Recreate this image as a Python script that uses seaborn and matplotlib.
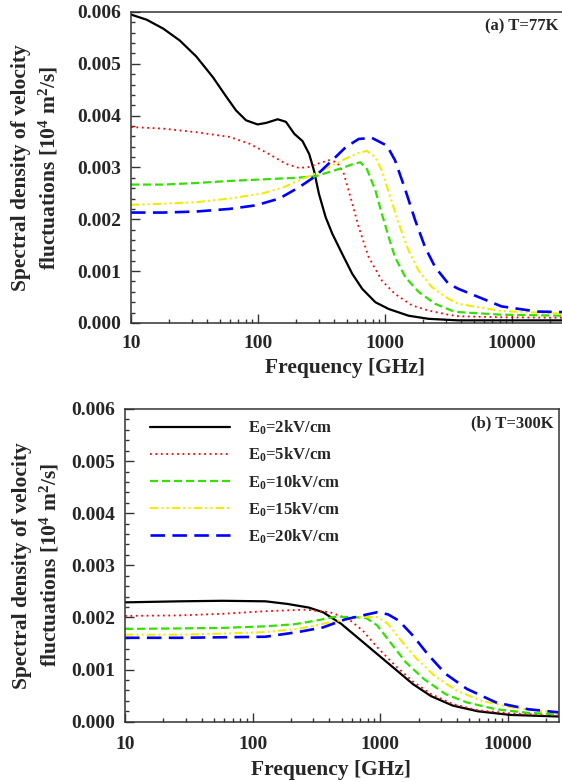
import matplotlib
matplotlib.use("Agg")
import matplotlib.pyplot as plt
import matplotlib.ticker as mticker
import seaborn as sns
import pandas as pd

# ---- data (frequency in GHz, spectral density) ----
labels = [r"E$_0$=2kV/cm", r"E$_0$=5kV/cm", r"E$_0$=10kV/cm",
          r"E$_0$=15kV/cm", r"E$_0$=20kV/cm"]

# (a) T=77K
f77_e2 = [10, 13.3, 17.9, 24.2, 32.7, 44.2, 56.1, 67.2, 80.5, 99.3, 116, 143, 166,
          193, 224, 253, 276, 302, 341, 385, 461, 552, 661, 840, 1069, 1532,
          2198, 3773, 10000, 25000]
s77_e2 = [0.00595, 0.00585, 0.00568, 0.00545, 0.00514, 0.00474, 0.00437, 0.0041,
          0.00391, 0.00383, 0.00386, 0.00393, 0.00388, 0.00365, 0.00351, 0.00326,
          0.00294, 0.00249, 0.00204, 0.00172, 0.00133, 0.00095, 0.00066, 0.0004,
          0.00027, 0.00014, 0.00008, 0.00005, 0.00005, 0.00005]
f77_e5 = [10, 17.9, 32.7, 59.6, 85.5, 122, 166, 211, 253, 302, 362, 420, 474, 535,
          621, 744, 944, 1199, 1630, 2198, 3150, 3773, 8300, 25000]
s77_e5 = [0.00378, 0.00375, 0.00368, 0.00359, 0.00346, 0.00326, 0.00307, 0.00299,
          0.00301, 0.00308, 0.00314, 0.0031, 0.00288, 0.00243, 0.00185, 0.00127,
          0.00082, 0.00056, 0.00034, 0.00024, 0.00016, 0.00013, 0.00011, 0.0001]
f77_e10 = [10, 17.9, 32.7, 59.6, 108.8, 198, 283, 362, 461, 552, 639, 720, 840,
           944, 1069, 1199, 1450, 1840, 2479, 3346, 3773, 8270, 25000]
s77_e10 = [0.00267, 0.00267, 0.0027, 0.00274, 0.00277, 0.0028, 0.00283, 0.00291,
           0.00299, 0.00306, 0.0031, 0.00297, 0.00256, 0.00211, 0.00166, 0.00127,
           0.00088, 0.0006, 0.00037, 0.00024, 0.00021, 0.00016, 0.00014]
f77_e15 = [10, 17.9, 32.7, 59.6, 108.8, 156, 224, 283, 362, 490, 621, 720, 840,
           944, 1102, 1285, 1532, 1840, 2345, 3150, 3773, 8270, 25000]
s77_e15 = [0.00228, 0.0023, 0.00233, 0.0024, 0.0025, 0.00261, 0.00278, 0.00288,
           0.00301, 0.00317, 0.00328, 0.00332, 0.0032, 0.00294, 0.00243, 0.00191,
           0.0014, 0.00101, 0.00069, 0.00047, 0.00037, 0.00023, 0.00018]
f77_e20 = [10, 17.9, 32.7, 59.6, 96.5, 147, 211, 283, 385, 490, 621, 790, 1037,
           1199, 1450, 1730, 2070, 2479, 3150, 3773, 8270, 15800, 25000]
s77_e20 = [0.00213, 0.00213, 0.00215, 0.0022, 0.00227, 0.0024, 0.00262, 0.00283,
           0.00314, 0.00339, 0.00355, 0.00357, 0.00342, 0.00314, 0.00256, 0.00198,
           0.00146, 0.00108, 0.00076, 0.00066, 0.00032, 0.00022, 0.00021]

# (b) T=300K
f300_e2 = [10, 27, 58, 126, 187, 276, 357, 494, 684, 946, 1310, 1810, 2510, 3700,
           5830, 10500, 25000]
s300_e2 = [0.00229, 0.00231, 0.00232, 0.00231, 0.00226, 0.00219, 0.0021, 0.00188,
           0.00159, 0.0013, 0.00101, 0.00072, 0.00049, 0.00031, 0.0002, 0.00013,
           0.0001]
f300_e5 = [10, 27, 58, 126, 258, 405, 565, 730, 946, 1310, 1810, 2510, 3700, 5830,
           10500, 25000]
s300_e5 = [0.00203, 0.00204, 0.00207, 0.00212, 0.00215, 0.0021, 0.00197, 0.00175,
           0.00143, 0.00108, 0.00077, 0.00053, 0.00034, 0.00022, 0.00016, 0.00012]
f300_e10 = [10, 27, 58, 126, 213, 314, 434, 601, 778, 946, 1230, 1590, 2200, 3250,
            4780, 8070, 14400, 25000]
s300_e10 = [0.00178, 0.00179, 0.0018, 0.00183, 0.00187, 0.00194, 0.00201, 0.00201,
            0.00199, 0.00185, 0.00149, 0.00114, 0.00082, 0.00053, 0.00037, 0.00024,
            0.00017, 0.00014]
f300_e15 = [10, 27, 58, 126, 227, 357, 527, 730, 946, 1150, 1490, 1930, 2670, 3950,
            6230, 10500, 17600, 25000]
s300_e15 = [0.00167, 0.00167, 0.00169, 0.00172, 0.00178, 0.00188, 0.00196, 0.00201,
            0.00201, 0.00188, 0.00153, 0.00121, 0.00088, 0.0006, 0.0004, 0.00028,
            0.00021, 0.00017]
f300_e20 = [10, 27, 58, 126, 227, 357, 527, 730, 946, 1150, 1400, 1810, 2350, 3250,
            4780, 8070, 14400, 25000]
s300_e20 = [0.00161, 0.00161, 0.00162, 0.00163, 0.00172, 0.00181, 0.00196, 0.00204,
            0.0021, 0.00206, 0.00194, 0.00165, 0.0013, 0.00092, 0.00063, 0.00037,
            0.00024, 0.00018]

panel_77 = [(f77_e2, s77_e2), (f77_e5, s77_e5), (f77_e10, s77_e10),
            (f77_e15, s77_e15), (f77_e20, s77_e20)]
panel_300 = [(f300_e2, s300_e2), (f300_e5, s300_e5), (f300_e10, s300_e10),
             (f300_e15, s300_e15), (f300_e20, s300_e20)]

# line look for each field value
colors = ["black", "#ff0000", "#33e000", "#f2ec00", "#0000ff"]
widths = [1.6, 1.3, 1.6, 1.5, 1.9]
styles = ["-", (0, (1, 2)), (0, (3.6, 1.8)), (0, (4, 1.5, 1, 1.5, 1, 1.5)),
          (0, (5.5, 2.8))]

sns.set_style("ticks")
plt.rcParams["font.family"] = ["Liberation Serif", "DejaVu Serif"]
plt.rcParams["font.weight"] = "bold"
plt.rcParams["mathtext.fontset"] = "custom"
plt.rcParams["mathtext.rm"] = "Liberation Serif:bold"
plt.rcParams["mathtext.it"] = "Liberation Serif:bold"
plt.rcParams["mathtext.bf"] = "Liberation Serif:bold"
plt.rcParams["mathtext.default"] = "rm"

fig = plt.figure(figsize=(5.62, 7.82), dpi=100)
ax_a = fig.add_axes([0.2331, 0.5870, 0.7678, 0.3977])
ax_b = fig.add_axes([0.2224, 0.0771, 0.7714, 0.3999])

ylab = "Spectral density of velocity\nfluctuations [10$^4$ m$^2$/s]"


def draw_panel(ax, series, tag, ylab_x, xlab_x, xlab_y, tick_pad):
    for (f, s), lab, c, lw, ls in zip(series, labels, colors, widths, styles):
        df = pd.DataFrame({"freq": f, "sd": s})
        sns.lineplot(data=df, x="freq", y="sd", ax=ax, color=c, lw=lw,
                     linestyle=ls, label=lab, legend=False)
    ax.set_xscale("log")
    ax.set_xlim(10, 25000)
    ax.set_ylim(0, 0.006)
    ax.xaxis.set_major_locator(mticker.FixedLocator([10, 100, 1000, 10000]))
    ax.xaxis.set_major_formatter(mticker.FormatStrFormatter("%d"))
    ax.xaxis.set_minor_locator(mticker.LogLocator(base=10, subs=range(2, 10)))
    ax.xaxis.set_minor_formatter(mticker.NullFormatter())
    ax.yaxis.set_major_locator(mticker.MultipleLocator(0.001))
    ax.yaxis.set_minor_locator(mticker.MultipleLocator(0.0002))
    ax.yaxis.set_major_formatter(mticker.FormatStrFormatter("%.3f"))
    ax.tick_params(which="both", direction="in", top=False, right=False,
                   width=1.0, color="#333333")
    ax.tick_params(which="major", length=6.5, labelsize=14)
    ax.tick_params(which="minor", length=3.2)
    ax.tick_params(axis="x", which="major", pad=tick_pad)
    ax.tick_params(axis="y", which="major", pad=7)
    for sp in ax.spines.values():
        sp.set_linewidth(1.1)
        sp.set_color("#333333")
    ax.set_xlabel("Frequency [GHz]", fontsize=15.5, fontweight="bold", va="center")
    ax.xaxis.set_label_coords(xlab_x, xlab_y)
    ax.set_ylabel(ylab, fontsize=15.5, fontweight="bold", va="center",
                  ha="center", linespacing=1.35)
    ax.yaxis.set_label_coords(ylab_x, 0.5)
    ax.text(0.9896, 0.955, tag, transform=ax.transAxes, ha="right", va="center",
            fontsize=12, fontweight="bold")


draw_panel(ax_a, panel_77, "(a) T=77K", -0.2213, 0.497, -0.145, 8.5)
draw_panel(ax_b, panel_300, "(b) T=300K", -0.204, 0.475, -0.155, 10.5)
ax_a.spines["right"].set_visible(False)

ax_b.legend(loc="upper left", bbox_to_anchor=(0.0577, 0.968), frameon=False,
            fontsize=12, handlelength=4.8, handletextpad=1.1, labelspacing=0.52,
            borderaxespad=0, borderpad=0)

fig.savefig("out.png", dpi=100)
